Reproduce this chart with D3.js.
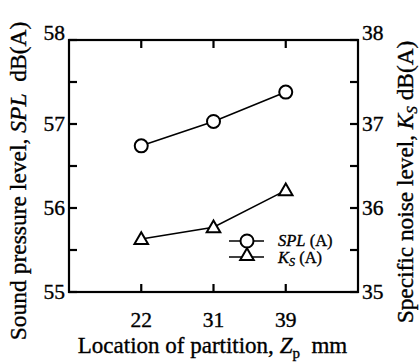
<!DOCTYPE html>
<html>
<head>
<meta charset="utf-8">
<script src="https://cdn.jsdelivr.net/npm/d3@7"></script>
<style>
  body { margin: 0; background: #fff; }
  svg text { font-family: "Liberation Serif", "Times New Roman", serif; fill: #000; stroke: #000; stroke-width: 0.35; }
</style>
</head>
<body>
<svg width="420" height="364"></svg>
<script>
// data
var locations = ["22", "31", "39"];
var splValues = [56.74, 57.03, 57.38];
var ksValues = [35.63, 35.77, 36.21];
var splTicks = [55, 56, 57, 58];
var ksTicks = [35, 36, 37, 38];

var svg = d3.select("svg");
var x0 = 69, x1 = 358, y0 = 40, y1 = 292;

var x = d3.scalePoint().domain(locations).range([x0, x1]).padding(1);
var yL = d3.scaleLinear().domain([55, 58]).range([y1, y0]);
var yR = d3.scaleLinear().domain([35, 38]).range([y1, y0]);

// frame
svg.append("rect")
  .attr("x", x0).attr("y", y0)
  .attr("width", x1 - x0).attr("height", y1 - y0)
  .attr("fill", "none").attr("stroke", "#000").attr("stroke-width", 2.2);

// inward ticks
var ax = svg.append("g").attr("stroke", "#000").attr("stroke-width", 2.2);
var yt = d3.range(55, 58.01, 0.5);
yt.forEach(function(v) {
  ax.append("line").attr("x1", x0).attr("x2", x0 + 8).attr("y1", yL(v)).attr("y2", yL(v));
  ax.append("line").attr("x1", x1).attr("x2", x1 - 8).attr("y1", yL(v)).attr("y2", yL(v));
});
locations.forEach(function(c) {
  ax.append("line").attr("x1", x(c)).attr("x2", x(c)).attr("y1", y1).attr("y2", y1 - 8);
  ax.append("line").attr("x1", x(c)).attr("x2", x(c)).attr("y1", y0).attr("y2", y0 + 8);
});

// tick labels (the top label sits on the frame line)
function tickY(scale, top) {
  return function(d) { return d === top ? scale(d) : scale(d) + 7; };
}
svg.selectAll(".tl").data(splTicks).enter().append("text")
  .attr("x", x0 - 4).attr("y", tickY(yL, 58))
  .attr("text-anchor", "end").attr("font-size", 21.5).text(function(d) { return d; });
svg.selectAll(".tr").data(ksTicks).enter().append("text")
  .attr("x", x1 + 4).attr("y", tickY(yR, 38))
  .attr("text-anchor", "start").attr("font-size", 21.5).text(function(d) { return d; });
svg.selectAll(".tx").data(locations).enter().append("text")
  .attr("x", function(d) { return x(d); }).attr("y", y1 + 35)
  .attr("text-anchor", "middle").attr("font-size", 21.5).text(function(d) { return d; });

// series
var line = d3.line();
svg.append("path")
  .attr("d", line(locations.map(function(c, i) { return [x(c), yL(splValues[i])]; })))
  .attr("fill", "none").attr("stroke", "#000").attr("stroke-width", 1.6);
svg.append("path")
  .attr("d", line(locations.map(function(c, i) { return [x(c), yR(ksValues[i])]; })))
  .attr("fill", "none").attr("stroke", "#000").attr("stroke-width", 1.6);

var tri = d3.symbol().type(d3.symbolTriangle).size(80);

svg.selectAll(".spl").data(splValues).enter().append("circle")
  .attr("cx", function(d, i) { return x(locations[i]); })
  .attr("cy", function(d) { return yL(d); })
  .attr("r", 6.5).attr("fill", "#fff").attr("stroke", "#000").attr("stroke-width", 2);
svg.selectAll(".ks").data(ksValues).enter().append("path")
  .attr("d", tri)
  .attr("transform", function(d, i) { return "translate(" + x(locations[i]) + "," + (yR(d) + 1) + ")"; })
  .attr("fill", "#fff").attr("stroke", "#000").attr("stroke-width", 2);

// legend
var lg = svg.append("g");
lg.append("line").attr("x1", 229).attr("x2", 264).attr("y1", 241).attr("y2", 241).attr("stroke", "#000").attr("stroke-width", 1.6);
lg.append("circle").attr("cx", 247).attr("cy", 241).attr("r", 6.5).attr("fill", "#fff").attr("stroke", "#000").attr("stroke-width", 2);
lg.append("line").attr("x1", 229).attr("x2", 264).attr("y1", 257).attr("y2", 257).attr("stroke", "#000").attr("stroke-width", 1.6);
lg.append("path").attr("d", tri).attr("transform", "translate(247,256)").attr("fill", "#fff").attr("stroke", "#000").attr("stroke-width", 2);
var t1 = lg.append("text").attr("x", 278).attr("y", 246).attr("font-size", 16.5);
t1.append("tspan").attr("font-style", "italic").text("SPL");
t1.append("tspan").text(" (A)");
var t2 = lg.append("text").attr("x", 278).attr("y", 263).attr("font-size", 16.5);
t2.append("tspan").attr("font-style", "italic").text("K");
t2.append("tspan").attr("font-style", "italic").attr("font-size", 12).attr("dy", 3).text("S");
t2.append("tspan").attr("dy", -3).text(" (A)");

// axis titles
var xt = svg.append("text").attr("x", (x0 + x1) / 2 - 1).attr("y", 353)
  .attr("text-anchor", "middle").attr("font-size", 23);
xt.append("tspan").text("Location of partition, ");
xt.append("tspan").attr("font-style", "italic").text("Z");
xt.append("tspan").attr("font-size", 15).attr("dy", 5).text("p");
xt.append("tspan").attr("dy", -5).text("\u2002mm");

var ylt = svg.append("text")
  .attr("transform", "translate(26,181) rotate(-90)")
  .attr("text-anchor", "middle").attr("font-size", 23.5);
ylt.append("tspan").text("Sound pressure level, ");
ylt.append("tspan").attr("font-style", "italic").text("SPL");
ylt.append("tspan").text("\u2002dB(A)");

var yrt = svg.append("text")
  .attr("transform", "translate(413,182) rotate(-90)")
  .attr("text-anchor", "middle").attr("font-size", 23.3);
yrt.append("tspan").text("Specific noise level, ");
yrt.append("tspan").attr("font-style", "italic").text("K");
yrt.append("tspan").attr("font-style", "italic").attr("font-size", 15).attr("dy", 4).text("S");
yrt.append("tspan").attr("dy", -4).text(" dB(A)");
</script>
</body>
</html>
